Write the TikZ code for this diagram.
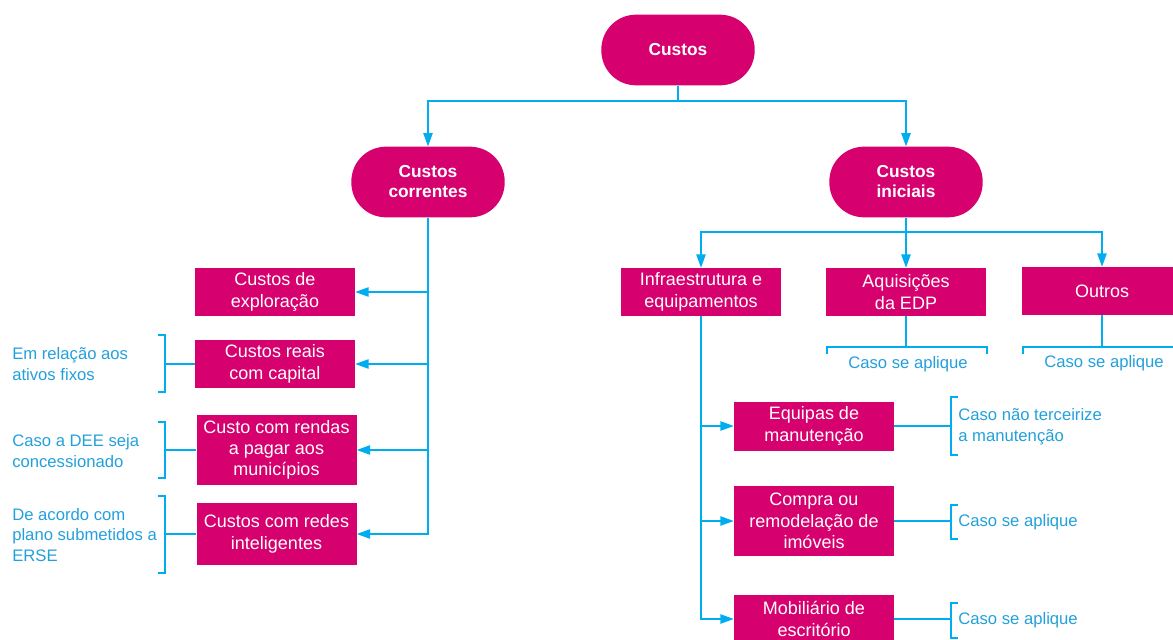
\documentclass[tikz,border=0pt]{standalone}
\usepackage{fontspec}
\setmainfont{Liberation Sans}
\usetikzlibrary{arrows.meta}
\definecolor{edpmag}{RGB}{214,0,111}
\definecolor{edpblue}{RGB}{0,174,239}
\definecolor{edptext}{RGB}{35,160,220}

\begin{document}
\begin{tikzpicture}[x=0.75pt,y=0.75pt,yscale=-1,xscale=1,
    pill/.style={fill=edpmag, text=white, font=\fontsize{13}{15}\selectfont\bfseries, rounded corners=26pt, minimum width=115pt, minimum height=53pt, align=center, inner sep=0pt},
    costbox/.style={fill=edpmag, text=white, font=\fontsize{13.5}{16}\selectfont, minimum width=120pt, align=center, inner sep=0pt},
    note/.style={text=edptext, font=\fontsize{12.5}{15.5}\selectfont, align=left, inner sep=0pt, anchor=west},
    link/.style={draw=edpblue, line width=1pt},
    arr/.style={link, -{Triangle[length=10pt,width=7pt]}}]
    \useasboundingbox (0,0) rectangle (1173,639);

    % Pills
    \node [pill] (custos) at (678,50) {Custos};
    \node [pill] (correntes) at (428,182) {Custos\\correntes};
    \node [pill] (iniciais) at (906,182) {Custos\\iniciais};

    % Custos correntes boxes
    \node [costbox, minimum height=36pt] (exploracao) at (275,292) {Custos de\\exploração};
    \node [costbox, minimum height=36pt] (reais) at (275,364) {Custos reais\\com capital};
    \node [costbox, minimum height=52.5pt] (rendas) at (276.5,450) {Custo com rendas\\a pagar aos\\municípios};
    \node [costbox, minimum height=46.5pt] (redes) at (276.5,534) {Custos com redes\\inteligentes};

    % Custos iniciais boxes
    \node [costbox, minimum height=36pt] (infra) at (701,292) {Infraestrutura e\\equipamentos};
    \node [costbox, minimum height=36pt] (aquis) at (906,292) {Aquisições\\da EDP};
    \node [costbox, minimum height=36pt] (outros) at (1102,291) {Outros};
    \node [costbox, minimum height=36.75pt] (equipas) at (814,426) {Equipas de\\manutenção};
    \node [costbox, minimum height=53pt] (compra) at (814,521) {Compra ou\\remodelação de\\imóveis};
    \node [costbox, minimum height=36.75pt] (mobiliario) at (814,619) {Mobiliário de\\escritório};

    % Junctions
    \coordinate (jc) at (678,101);
    \coordinate (ji) at (906,232);
    \draw [link] (custos) -- (jc);
    \draw [arr] (jc) -| (correntes.north);
    \draw [arr] (jc) -| (iniciais.north);
    \draw [link] (iniciais) -- (ji);
    \draw [arr] (ji) -| (infra.north);
    \draw [arr] (ji) -| (aquis.north);
    \draw [arr] (ji) -| (outros.north);

    % Custos correntes branches
    \draw [arr] (correntes.south) |- (exploracao.east);
    \draw [arr] (correntes.south) |- (reais.east);
    \draw [arr] (correntes.south) |- (rendas.east);
    \draw [arr] (correntes.south) |- (redes.east);

    % Infraestrutura branches
    \draw [arr] (infra.south) |- (equipas.west);
    \draw [arr] (infra.south) |- (compra.west);
    \draw [arr] (infra.south) |- (mobiliario.west);

    % Left brackets
    \coordinate (breais) at (165,364);
    \coordinate (brendas) at (165,450);
    \coordinate (bredes) at (165,534);
    \draw [link] (158,335) -- (165,335) -- (165,392) -- (158,392);
    \draw [link] (breais) -- (reais.west);
    \draw [link] (158,422) -- (165,422) -- (165,478) -- (158,478);
    \draw [link] (brendas) -- (rendas.west);
    \draw [link] (158,496) -- (165,496) -- (165,573) -- (158,573);
    \draw [link] (bredes) -- (redes.west);

    % Right brackets
    \coordinate (bequipas) at (951,426);
    \coordinate (bcompra) at (951,521);
    \coordinate (bmobil) at (951,619);
    \draw [link] (958,397) -- (951,397) -- (951,455) -- (958,455);
    \draw [link] (equipas.east) -- (bequipas);
    \draw [link] (958,505) -- (951,505) -- (951,539) -- (958,539);
    \draw [link] (compra.east) -- (bcompra);
    \draw [link] (958,603) -- (951,603) -- (951,638) -- (958,638);
    \draw [link] (mobiliario.east) -- (bmobil);

    % Top brackets
    \coordinate (baquis) at (906,347);
    \coordinate (boutros) at (1102,347);
    \draw [link] (aquis.south) -- (baquis);
    \draw [link] (827,354) -- (827,347) -- (987,347) -- (987,354);
    \draw [link] (outros.south) -- (boutros);
    \draw [link] (1023,354) -- (1023,347) -- (1182,347) -- (1182,354);

    % Text Node
    \node [note] (nreais) at (12,364) {Em relação aos\\ativos fixos};
    \node [note] (nrendas) at (12,451) {Caso a DEE seja\\concessionado};
    \node [note] (nredes) at (12,535) {De acordo com\\plano submetidos a\\ERSE};
    \node [note] (nequipas) at (958,427) {Caso não terceirize\\a manutenção};
    \node [note] (ncompra) at (958,522) {Caso se aplique};
    \node [note] (nmobil) at (958,620) {Caso se aplique};
    \node [note, anchor=center] (naquis) at (908,364) {Caso se aplique};
    \node [note, anchor=center] (noutros) at (1104,363) {Caso se aplique};

\end{tikzpicture}
\end{document}
